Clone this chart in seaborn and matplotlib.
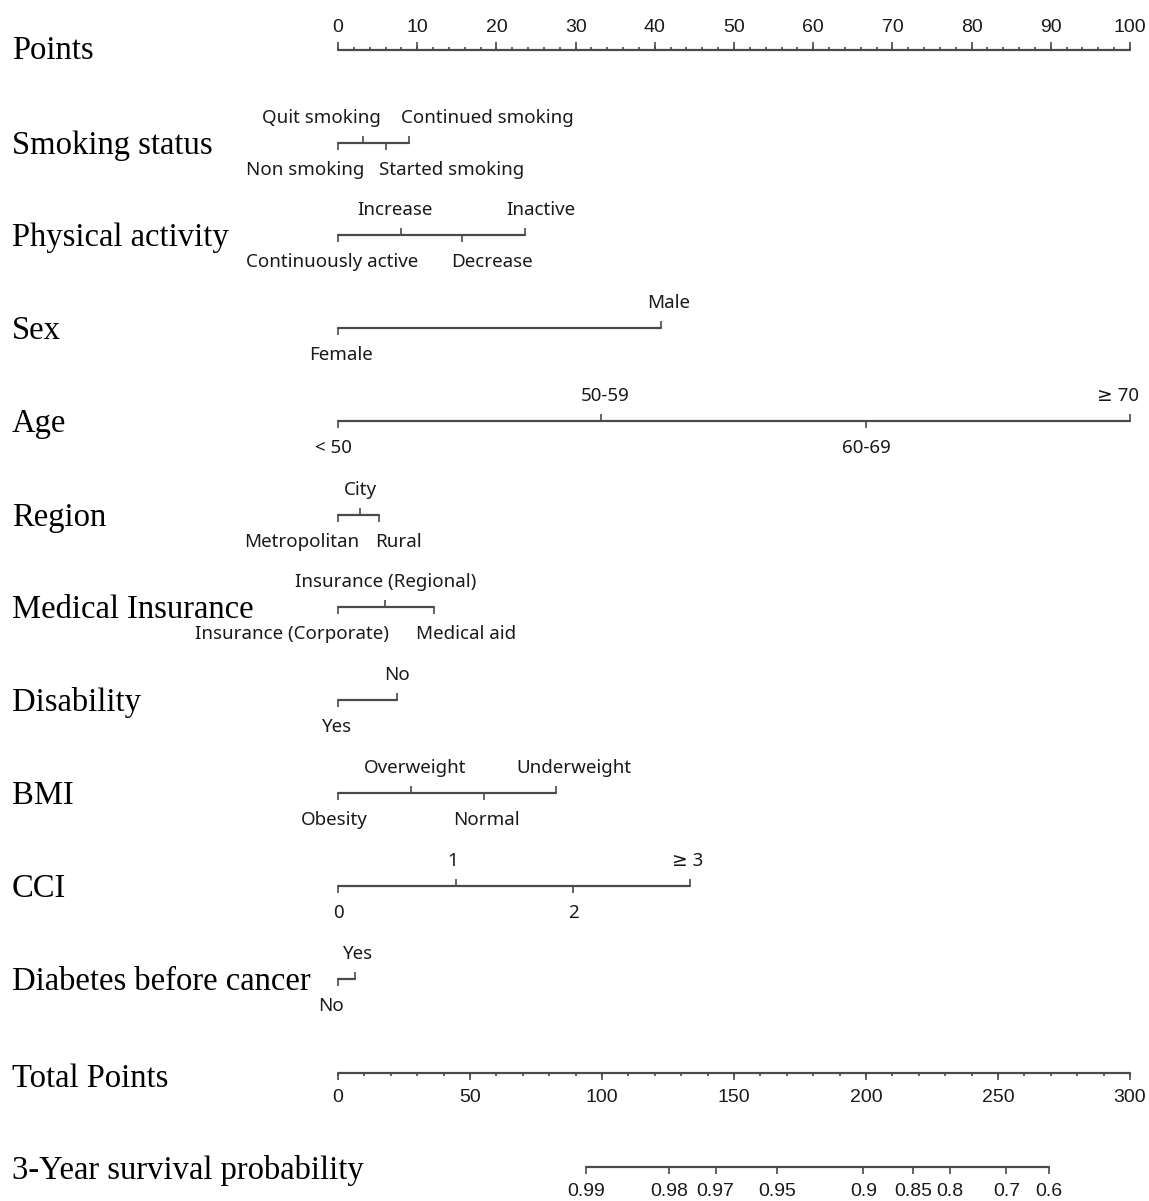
import numpy as np
import pandas as pd
import seaborn as sns
import matplotlib.pyplot as plt

# points scale
points_major = np.arange(0, 101, 10)
points_minor = np.arange(0, 101, 2)

# predictors: level names and the points they get
smoking_levels = ['Non smoking', 'Quit smoking', 'Started smoking', 'Continued smoking']
smoking_points = [0, 3.2, 6.1, 9.0]
activity_levels = ['Continuously active', 'Increase', 'Decrease', 'Inactive']
activity_points = [0, 7.9, 15.6, 23.6]
sex_levels = ['Female', 'Male']
sex_points = [0, 40.8]
age_levels = ['< 50', '50-59', '60-69', '\u2265 70']
age_points = [0, 33.2, 66.7, 100]
region_levels = ['Metropolitan', 'City', 'Rural']
region_points = [0, 2.8, 5.2]
insurance_levels = ['Insurance (Corporate)', 'Insurance (Regional)', 'Medical aid']
insurance_points = [0, 5.9, 12.1]
disability_levels = ['Yes', 'No']
disability_points = [0, 7.4]
bmi_levels = ['Obesity', 'Overweight', 'Normal', 'Underweight']
bmi_points = [0, 9.2, 18.4, 27.5]
cci_levels = ['0', '1', '2', '\u2265 3']
cci_points = [0, 14.9, 29.7, 44.5]
diabetes_levels = ['No', 'Yes']
diabetes_points = [0, 2.1]

# total points and survival
total_major = np.arange(0, 301, 50)
total_minor = np.arange(0, 301, 10)
surv_labels = ['0.99', '0.98', '0.97', '0.95', '0.9', '0.85', '0.8', '0.7', '0.6']
surv_total = [93.8, 125.4, 143.0, 166.2, 199.0, 217.9, 231.7, 253.2, 269.2]

# layout (pixels): row line heights and label nudges
PX = 7.92      # pixels per point
X0 = 338       # pixel of 0 points
rows = [
    ('Smoking status', smoking_levels, smoking_points, 143, [-33, -42, 65, 78]),
    ('Physical activity', activity_levels, activity_points, 235, [-6, -6, 30, 16]),
    ('Sex', sex_levels, sex_points, 328, [3, 7]),
    ('Age', age_levels, age_points, 421, [-5, 4, 0, -12]),
    ('Region', region_levels, region_points, 515, [-36, 0, 19]),
    ('Medical Insurance', insurance_levels, insurance_points, 607, [-46, 1, 32]),
    ('Disability', disability_levels, disability_points, 700, [-1, 0]),
    ('BMI', bmi_levels, bmi_points, 793, [-4, 4, 3, 18]),
    ('CCI', cci_levels, cci_points, 886, [0, -3, 0, -3]),
    ('Diabetes before cancer', diabetes_levels, diabetes_points, 979, [-7, 3]),
]
y_points, y_total, y_surv = 50, 1073, 1167

sns.set_theme(style='white')
plt.rcParams['font.family'] = ['Noto Sans', 'DejaVu Sans']
line_col = '#4a4a4a'
serif = ['Liberation Serif', 'DejaVu Serif']
numfont = ['Liberation Sans', 'DejaVu Sans']

fig = plt.figure(figsize=(11.49, 12.01), dpi=100)
ax = fig.add_axes([0, 0, 1, 1])

title_x = (12 - X0) / PX

# axis lines for every row, drawn with seaborn
segs = [('Points', 0, y_points), ('Points', 100, y_points)]
for name, levels, pts, y, _ in rows:
    segs += [(name, min(pts), y), (name, max(pts), y)]
segs += [('Total', 0, y_total), ('Total', 100, y_total)]
segs += [('Surv', surv_total[0] / 3, y_surv), ('Surv', surv_total[-1] / 3, y_surv)]
seg_df = pd.DataFrame(segs, columns=['row', 'x', 'y'])
sns.lineplot(data=seg_df, x='x', y='y', units='row', estimator=None, sort=False,
             color=line_col, lw=1.6, ax=ax)
ax.set_xlim(-X0 / PX, (1149 - X0) / PX)
ax.set_ylim(1201, 0)
ax.axis('off')

# Points scale
ax.text(title_x, y_points + 1, 'Points', family=serif, fontsize=23.5, va='center', ha='left', color='black')
ax.vlines(points_minor, y_points - 3, y_points, color=line_col, lw=1.2)
ax.vlines(points_major, y_points - 8, y_points, color=line_col, lw=1.2)
for v in points_major:
    ax.text(v, 27, str(v), family=numfont, fontsize=14, ha='center', va='center', color='#1a1a1a')

# predictor rows
for name, levels, pts, y, nudge in rows:
    ax.text(title_x, y + 3, name, family=serif, fontsize=23.5, va='center', ha='left', color='black')
    for i, (lab, p) in enumerate(zip(levels, pts)):
        up = i % 2 == 1
        ax.vlines(p, y, y - 7 if up else y + 7, color=line_col, lw=1.2)
        ax.text(p + nudge[i] / PX, y - 25 if up else y + 27, lab, fontsize=13.5,
                ha='center', va='center', color='#1a1a1a')

# Total points
ax.text(title_x, y_total + 6, 'Total Points', family=serif, fontsize=23.5, va='center', ha='left', color='black')
ax.vlines(total_minor / 3, y_total, y_total + 3, color=line_col, lw=1.2)
ax.vlines(total_major / 3, y_total, y_total + 7, color=line_col, lw=1.2)
for v in total_major:
    ax.text(v / 3, 1097, str(v), family=numfont, fontsize=14, ha='center', va='center', color='#1a1a1a')

# survival probability
ax.text(title_x, y_surv + 4, '3-Year survival probability', family=serif, fontsize=23.5, va='center', ha='left', color='black')
for lab, t in zip(surv_labels, surv_total):
    ax.vlines(t / 3, y_surv, y_surv + 7, color=line_col, lw=1.2)
    ax.text(t / 3, 1192, lab, family=numfont, fontsize=14, ha='center', va='center', color='#1a1a1a')

fig.savefig('out.png', dpi=100)
